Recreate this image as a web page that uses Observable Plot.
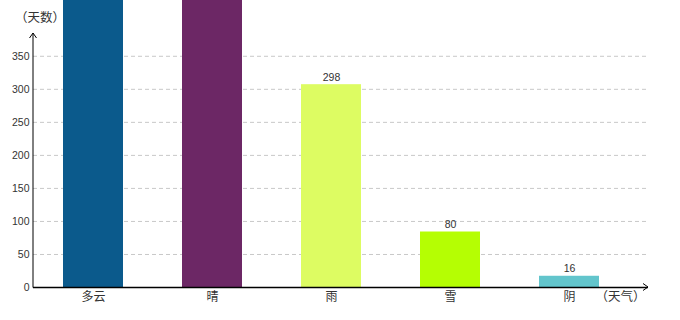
<!DOCTYPE html>
<html><head><meta charset="utf-8">
<script src="https://cdn.jsdelivr.net/npm/d3@7"></script>
<script src="https://cdn.jsdelivr.net/npm/@observablehq/plot@0.6"></script>
<style>body{margin:0;background:#fff} svg{overflow:hidden}</style>
</head><body><div id="chart"></div>
<script>
const weather = ["多云", "晴", "雨", "雪", "阴"];
// bar heights as drawn in the picture (first two run off the top)
const barHeights = [520, 500, 307, 84, 17];
// value labels printed above the bars (those of the first two bars are off the picture)
const dayLabels = ["", "", "298", "80", "16"];
const colors = ["#0b5a8c", "#6c2765", "#ddfc62", "#b5fe03", "#62c5cc"];
const yTicks = [0, 50, 100, 150, 200, 250, 300, 350];
const yTitle = "（天数）";
const xTitle = "（天气）";

const data = weather.map((w, i) => ({weather: w, height: barHeights[i], label: dayLabels[i]}));
const numFont = "Liberation Sans, Arial, sans-serif";
const cjkFont = "Noto Sans CJK SC, sans-serif";

const chart = Plot.plot({
  width: 680, height: 320,
  marginLeft: 33, marginRight: 32, marginTop: 32, marginBottom: 33,
  style: {fontFamily: numFont, color: "#333", background: "#fff", overflow: "hidden"},
  x: {domain: weather, paddingInner: 0.5, paddingOuter: 0.25, insetRight: 20},
  y: {domain: [0, 386]},
  color: {domain: weather, range: colors},
  marks: [
    Plot.gridY(yTicks.filter(d => d > 0), {stroke: "#c8c8c8", strokeOpacity: 1, strokeDasharray: "4,3"}),
    Plot.barY(data, {x: "weather", y: "height", fill: "weather"}),
    Plot.text(data.filter(d => d.label), {x: "weather", y: "height", text: "label", lineAnchor: "bottom", dy: -4, fontSize: 10.5, fill: "#333"}),
    Plot.ruleY([0], {stroke: "#000", strokeWidth: 1.3}),
    Plot.axisY({ticks: yTicks, tickSize: 0, tickPadding: 4, fontSize: 10.5, label: null, tickFormat: d => d}),
    Plot.axisX({tickSize: 0, tickPadding: 5, fontSize: 12, fontFamily: cjkFont, label: null}),
    Plot.text([yTitle], {frameAnchor: "top-left", textAnchor: "middle", dx: 6.5, dy: -19, fontSize: 12.5, fontFamily: cjkFont, fill: "#333"}),
    Plot.text([xTitle], {frameAnchor: "bottom-right", textAnchor: "middle", dx: -28, dy: 13.5, fontSize: 12.5, fontFamily: cjkFont, fill: "#333"})
  ]
});

const svg = d3.select(chart);
svg.append("path").attr("d", "M33,287.5V33").attr("stroke", "#000").attr("stroke-width", 1).attr("fill", "none");
svg.append("path").attr("d", "M29.5,38L33,33L36.5,38").attr("stroke", "#000").attr("stroke-width", 1).attr("fill", "none");
svg.append("path").attr("d", "M643,283.5L648,287L643,290.5").attr("stroke", "#000").attr("stroke-width", 1).attr("fill", "none");
document.getElementById("chart").appendChild(chart);
</script>
</body></html>
